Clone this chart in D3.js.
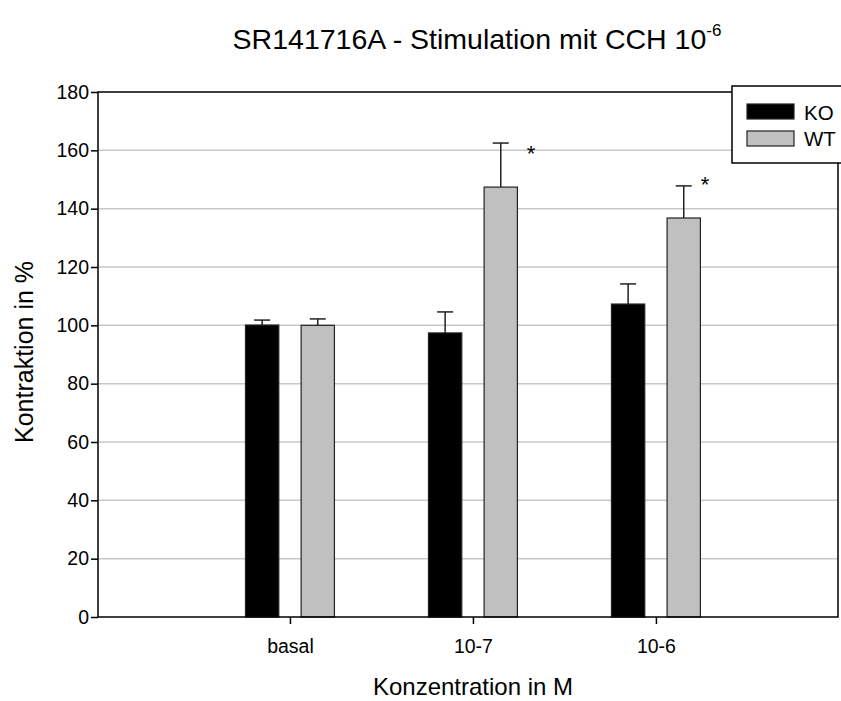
<!DOCTYPE html>
<html>
<head>
<meta charset="utf-8">
<script src="https://cdn.jsdelivr.net/npm/d3@7"></script>
<style>
  body { margin: 0; background: #fff; }
  svg { font-family: "Liberation Sans", Arial, sans-serif; }
</style>
</head>
<body>
<div id="chart"></div>
<script>
// data
const categories = ["basal", "10-7", "10-6"];
const koValues = [100.1, 97.4, 107.3];
const koErrors = [1.7, 7.2, 6.9];
const wtValues = [100.0, 147.4, 136.8];
const wtErrors = [2.2, 15.1, 11.0];
// significance markers: position in (category index, value) units
const starX = [1.317, 2.268];
const starY = [159.8, 149.1];
const yTicks = [0, 20, 40, 60, 80, 100, 120, 140, 160, 180];

const width = 841, height = 701;
const margin = { top: 92, left: 98 };
const innerW = 740, innerH = 525;

const svg = d3.select("#chart")
    .append("svg")
    .attr("width", width)
    .attr("height", height);

const g = svg.append("g")
    .attr("transform", `translate(${margin.left},${margin.top})`);

// x: categories sit on a linear index axis
const x = d3.scaleLinear()
    .domain([-1.049, 2.995])
    .range([0, innerW]);

const y = d3.scaleLinear()
    .domain([0, 180])
    .range([innerH, 0]);

const barW = 0.182;
const offset = 0.152;

// grid lines
g.selectAll(".grid")
    .data(yTicks.filter(t => t > 0 && t < 180))
    .enter()
    .append("line")
    .attr("x1", 0)
    .attr("x2", innerW)
    .attr("y1", d => y(d))
    .attr("y2", d => y(d))
    .attr("stroke", "#c8c8c8")
    .attr("stroke-width", 1.5);

const series = [
    { name: "KO", values: koValues, errors: koErrors, fill: "#000000", shift: -offset },
    { name: "WT", values: wtValues, errors: wtErrors, fill: "#c0c0c0", shift: offset }
];

series.forEach(s => {
    const grp = g.append("g");

    // error bars (upper only)
    grp.selectAll(".err")
        .data(s.values)
        .enter()
        .append("line")
        .attr("x1", (d, i) => x(i + s.shift))
        .attr("x2", (d, i) => x(i + s.shift))
        .attr("y1", d => y(d))
        .attr("y2", (d, i) => y(d + s.errors[i]))
        .attr("stroke", "#222")
        .attr("stroke-width", 1.5);

    grp.selectAll(".cap")
        .data(s.values)
        .enter()
        .append("line")
        .attr("x1", (d, i) => x(i + s.shift) - 8)
        .attr("x2", (d, i) => x(i + s.shift) + 8)
        .attr("y1", (d, i) => y(d + s.errors[i]))
        .attr("y2", (d, i) => y(d + s.errors[i]))
        .attr("stroke", "#222")
        .attr("stroke-width", 1.5);

    grp.selectAll(".bar")
        .data(s.values)
        .enter()
        .append("rect")
        .attr("x", (d, i) => x(i + s.shift - barW / 2))
        .attr("width", x(barW) - x(0))
        .attr("y", d => y(d))
        .attr("height", d => innerH - y(d))
        .attr("fill", s.fill)
        .attr("stroke", "#222")
        .attr("stroke-width", 1.2);
});

// significance stars
g.selectAll(".star")
    .data(starX)
    .enter()
    .append("text")
    .attr("x", d => x(d))
    .attr("y", (d, i) => y(starY[i]) + 10)
    .attr("font-size", 22)
    .attr("text-anchor", "middle")
    .text("*");

// frame
g.append("rect")
    .attr("x", 0)
    .attr("y", 0)
    .attr("width", innerW)
    .attr("height", innerH)
    .attr("fill", "none")
    .attr("stroke", "#000")
    .attr("stroke-width", 1.5);

// axes
const yAxis = g.append("g")
    .call(d3.axisLeft(y).tickValues(yTicks).tickSize(7).tickPadding(2));
const xAxis = g.append("g")
    .attr("transform", `translate(0,${innerH})`)
    .call(d3.axisBottom(x).tickValues([0, 1, 2]).tickFormat(i => categories[i]).tickSize(7).tickPadding(15));

[yAxis, xAxis].forEach(a => {
    a.select(".domain").remove();
    a.selectAll("line").attr("stroke", "#000").attr("stroke-width", 1.5);
    a.selectAll("text")
        .attr("font-size", 19.5)
        .attr("font-family", "Liberation Sans, Arial, sans-serif")
        .attr("fill", "#000");
});

// legend
const legend = svg.append("g").attr("transform", "translate(732,86)");
legend.append("rect")
    .attr("width", 118)
    .attr("height", 77)
    .attr("fill", "#fff")
    .attr("stroke", "#000")
    .attr("stroke-width", 1.5);
series.forEach((s, i) => {
    legend.append("rect")
        .attr("x", 15)
        .attr("y", 18 + i * 27)
        .attr("width", 47)
        .attr("height", 15)
        .attr("fill", s.fill)
        .attr("stroke", "#222")
        .attr("stroke-width", 1.2);
    legend.append("text")
        .attr("x", 72)
        .attr("y", 34 + i * 26)
        .attr("font-size", 20.5)
        .text(s.name);
});

// title
const title = svg.append("text")
    .attr("x", 477)
    .attr("y", 49)
    .attr("text-anchor", "middle")
    .attr("font-size", 28.5);
title.append("tspan").text("SR141716A - Stimulation mit CCH 10");
title.append("tspan").attr("dy", -13).attr("font-size", 17).text("-6");

// axis labels
svg.append("text")
    .attr("x", 473)
    .attr("y", 695)
    .attr("text-anchor", "middle")
    .attr("font-size", 24)
    .text("Konzentration in M");

svg.append("text")
    .attr("transform", "translate(33,352) rotate(-90)")
    .attr("text-anchor", "middle")
    .attr("font-size", 25)
    .text("Kontraktion in %");
</script>
</body>
</html>
